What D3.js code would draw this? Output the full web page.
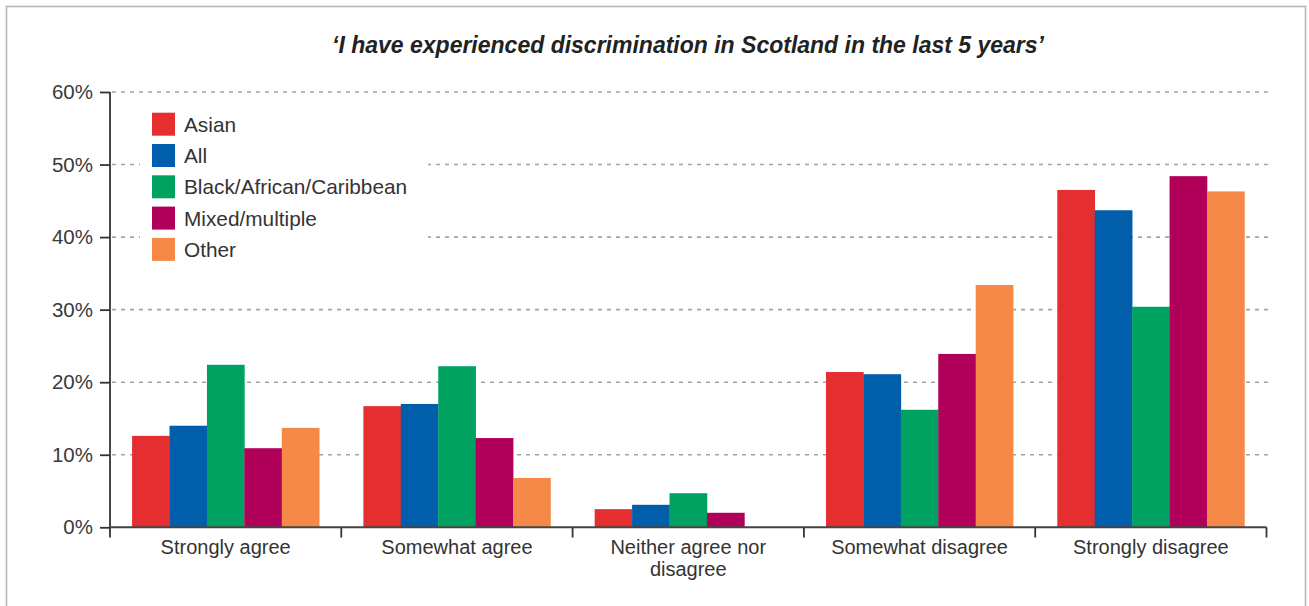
<!DOCTYPE html>
<html>
<head>
<meta charset="utf-8">
<script src="https://cdn.jsdelivr.net/npm/d3@7"></script>
<style>
  html, body { margin: 0; padding: 0; background: #fff; }
  svg { display: block; }
  text { font-family: "Liberation Sans", Arial, sans-serif; }
</style>
</head>
<body>
<svg id="chart" width="1309" height="606"></svg>
<script>
// Survey responses by ethnic group (percent of respondents)
const categories = ["Strongly agree", "Somewhat agree", "Neither agree nor disagree", "Somewhat disagree", "Strongly disagree"];
const seriesNames = ["Asian", "All", "Black/African/Caribbean", "Mixed/multiple", "Other"];
const asian   = [12.6, 16.7, 2.5, 21.4, 46.5];
const all     = [14.0, 17.0, 3.1, 21.1, 43.7];
const black   = [22.4, 22.2, 4.7, 16.2, 30.4];
const mixed   = [10.9, 12.3, 2.0, 23.9, 48.4];
const other   = [13.7, 6.8, 0, 33.4, 46.3];
const yTicks  = [0, 10, 20, 30, 40, 50, 60];
const colors  = ["#e52e2f", "#005eab", "#00a261", "#b1005a", "#f58a48"];
const title   = "\u2018I have experienced discrimination in Scotland in the last 5 years\u2019";

const seriesValues = [asian, all, black, mixed, other];
const rows = categories.map((c, i) => ({
  category: c,
  values: seriesNames.map((s, j) => ({ series: s, value: seriesValues[j][i] }))
}));

const svg = d3.select("#chart");

// outer frame
svg.append("rect")
  .attr("x", 6.5).attr("y", 6.5)
  .attr("width", 1299).attr("height", 620)
  .attr("fill", "none").attr("stroke", "#b3b3b3").attr("stroke-width", 1.5);

const plot = { left: 110, right: 1266.5, top: 92, bottom: 527.3 };

const x0 = d3.scaleBand().domain(categories).range([plot.left, plot.right]).paddingInner(0).paddingOuter(0);
const x1 = d3.scaleBand().domain(seriesNames).range([0, x0.bandwidth()]).paddingInner(0).paddingOuter(0.59);
const y = d3.scaleLinear().domain([0, 60]).range([plot.bottom, plot.top]);
const color = d3.scaleOrdinal().domain(seriesNames).range(colors);

// title
svg.append("text")
  .attr("x", 688).attr("y", 53)
  .attr("text-anchor", "middle")
  .attr("font-size", 23).attr("font-weight", "bold").attr("font-style", "italic")
  .attr("fill", "#222")
  .text(title);

// dashed gridlines
svg.append("g")
  .selectAll("line")
  .data(yTicks.filter(t => t > 0))
  .join("line")
  .attr("x1", plot.left + 2).attr("x2", 1268)
  .attr("y1", d => y(d)).attr("y2", d => y(d))
  .attr("stroke", "#a3a3a3").attr("stroke-width", 1.6)
  .attr("stroke-dasharray", "4,5");

// legend background masks the gridlines behind it
svg.append("rect")
  .attr("x", 140).attr("y", 100).attr("width", 288).attr("height", 168)
  .attr("fill", "#fff");

// bars
svg.append("g")
  .selectAll("g")
  .data(rows)
  .join("g")
  .attr("transform", d => `translate(${x0(d.category)},0)`)
  .selectAll("rect")
  .data(d => d.values)
  .join("rect")
  .attr("x", d => x1(d.series))
  .attr("width", x1.bandwidth() + 0.3)
  .attr("y", d => y(d.value))
  .attr("height", d => y(0) - y(d.value))
  .attr("fill", d => color(d.series));

// y axis
const yAxis = svg.append("g")
  .attr("transform", `translate(${plot.left},0)`)
  .call(d3.axisLeft(y).tickValues(yTicks).tickSize(10).tickPadding(7).tickFormat(d => d + "%"));
yAxis.select(".domain").remove();
yAxis.selectAll(".tick line").attr("stroke", "#333").attr("stroke-width", 1.8);
yAxis.selectAll(".tick text")
  .attr("font-size", 20.5).attr("fill", "#3a3a3a")
  .attr("font-family", "'Liberation Sans', Arial, sans-serif");
svg.append("line")
  .attr("x1", plot.left).attr("x2", plot.left)
  .attr("y1", plot.top).attr("y2", 537.5)
  .attr("stroke", "#333").attr("stroke-width", 1.8);

// x axis: baseline, boundary ticks and wrapped labels
svg.append("line")
  .attr("x1", plot.left).attr("x2", plot.right)
  .attr("y1", plot.bottom).attr("y2", plot.bottom)
  .attr("stroke", "#444").attr("stroke-width", 2);
const boundaries = categories.map(c => x0(c)).concat([plot.right]);
svg.append("g")
  .selectAll("line")
  .data(boundaries.slice(1))
  .join("line")
  .attr("x1", d => d).attr("x2", d => d)
  .attr("y1", plot.bottom).attr("y2", 537.5)
  .attr("stroke", "#333").attr("stroke-width", 1.8);

const labels = svg.append("g")
  .selectAll("text")
  .data(categories)
  .join("text")
  .attr("x", d => x0(d) + x0.bandwidth() / 2)
  .attr("y", 554)
  .attr("text-anchor", "middle")
  .attr("font-size", 20).attr("fill", "#333");

labels.each(function(d) {
  const t = d3.select(this);
  const words = d.split(" ");
  const maxW = x0.bandwidth() - 40;
  let line = [];
  let tspan = t.append("tspan").attr("x", t.attr("x")).attr("dy", 0);
  words.forEach(w => {
    line.push(w);
    tspan.text(line.join(" "));
    if (tspan.node().getComputedTextLength() > maxW && line.length > 1) {
      line.pop();
      tspan.text(line.join(" "));
      line = [w];
      tspan = t.append("tspan").attr("x", t.attr("x")).attr("dy", 22).text(w);
    }
  });
});

// legend
const legend = svg.append("g")
  .selectAll("g")
  .data(seriesNames)
  .join("g")
  .attr("transform", (d, i) => `translate(152,${112.7 + i * 31.3})`);
legend.append("rect")
  .attr("width", 23).attr("height", 23)
  .attr("fill", d => color(d));
legend.append("text")
  .attr("x", 32).attr("y", 19)
  .attr("font-size", 20.8).attr("fill", "#333")
  .text(d => d);
</script>
</body>
</html>
